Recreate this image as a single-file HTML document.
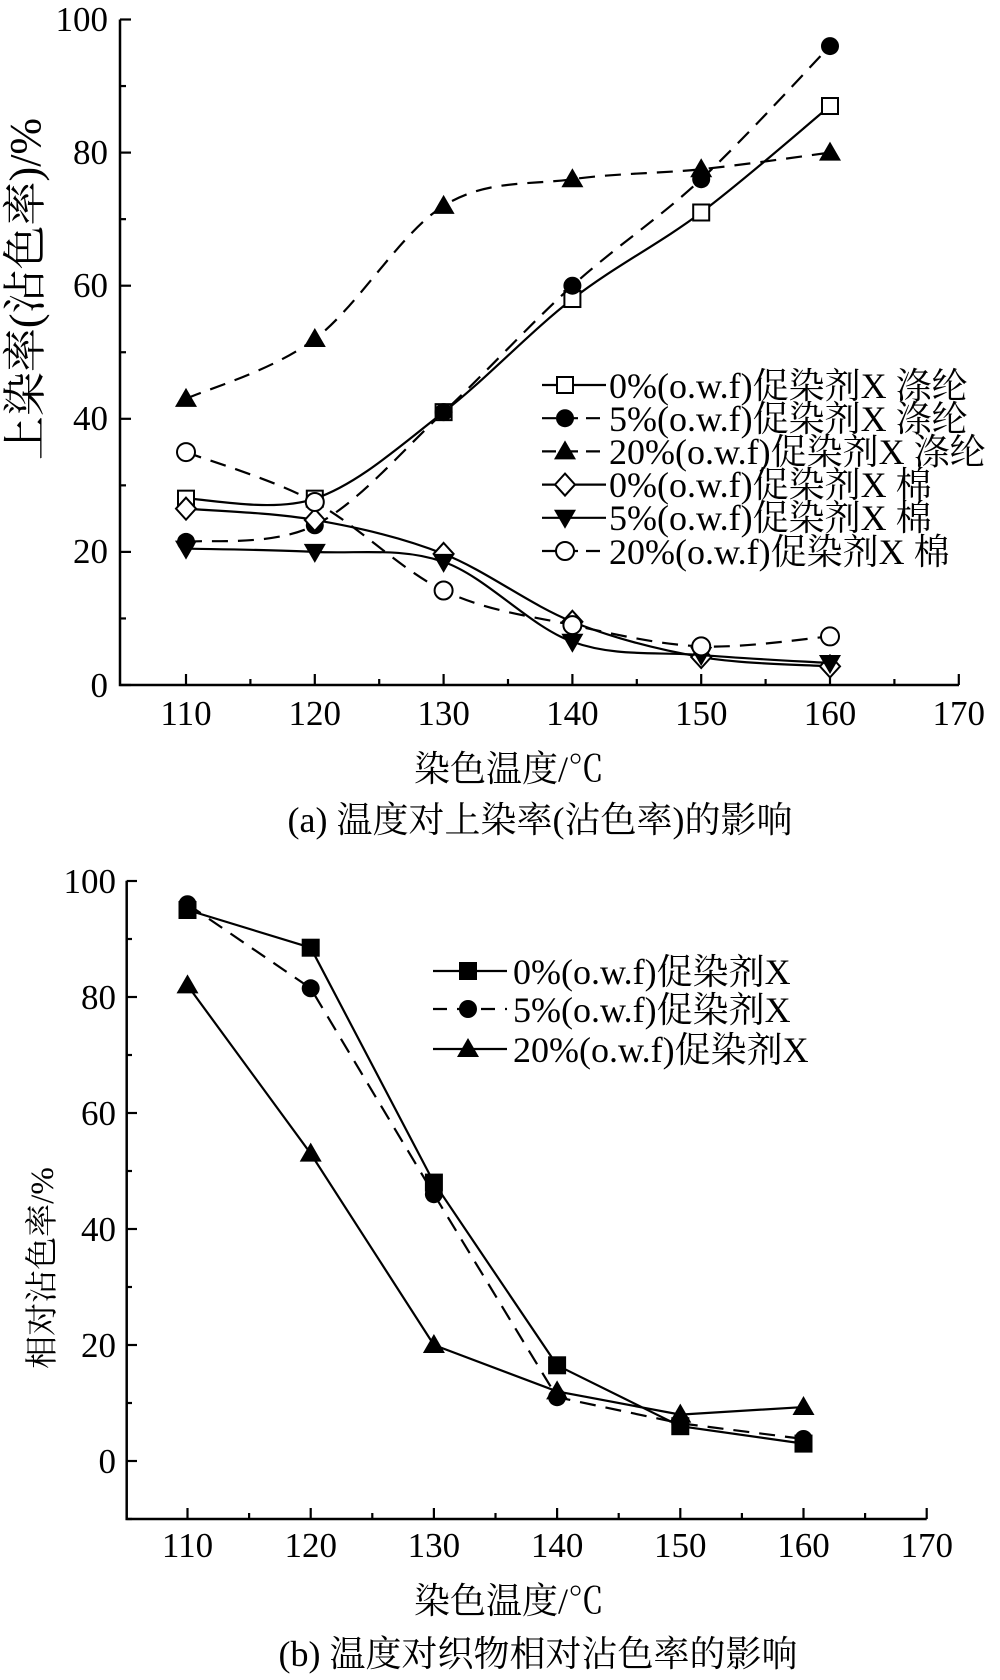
<!DOCTYPE html>
<html><head><meta charset="utf-8"><style>
html,body{margin:0;padding:0;background:#fff}
svg{display:block}
text{font-family:"Liberation Serif","Noto Serif CJK SC","Noto Sans CJK SC",serif;fill:#000}
</style></head><body>
<svg id="s" width="1000" height="1680" viewBox="0 0 1000 1680" xmlns="http://www.w3.org/2000/svg">
<g id="axes" stroke="#000" stroke-width="2.5" fill="none">
<path d="M120,19.5 V685 H959"/>
<path d="M126.7,880.7 V1519 H926.7"/>
</g>
<g id="ticks" stroke="#000" stroke-width="2.2"></g>
<g id="series"></g>
<g font-size="35" text-anchor="end">
<text x="108" y="31">100</text><text x="108" y="164">80</text><text x="108" y="297">60</text><text x="108" y="430">40</text><text x="108" y="563">20</text><text x="108" y="697">0</text>
<text x="116" y="893">100</text><text x="116" y="1009">80</text><text x="116" y="1125">60</text><text x="116" y="1241">40</text><text x="116" y="1357">20</text><text x="116" y="1473">0</text>
</g>
<g font-size="35" text-anchor="middle">
<text x="186" y="725">110</text><text x="314.8" y="725">120</text><text x="443.6" y="725">130</text><text x="572.4" y="725">140</text><text x="701.2" y="725">150</text><text x="830" y="725">160</text><text x="958.8" y="725">170</text>
<text x="187.5" y="1557">110</text><text x="310.7" y="1557">120</text><text x="433.9" y="1557">130</text><text x="557.1" y="1557">140</text><text x="680.3" y="1557">150</text><text x="803.5" y="1557">160</text><text x="926.7" y="1557">170</text>
<text x="509" y="781" font-size="36">染色温度/℃</text>
<text x="540" y="832" font-size="36">(a) 温度对上染率(沾色率)的影响</text>
<text x="509" y="1613" font-size="36">染色温度/℃</text>
<text x="538" y="1666" font-size="36">(b) 温度对织物相对沾色率的影响</text>
<text transform="translate(40,289) rotate(-90)" font-size="44">上染率(沾色率)/%</text>
<text transform="translate(53,1268) rotate(-90)" font-size="33">相对沾色率/%</text>
</g>
<g font-size="36">
<text x="609" y="398">0%(o.w.f)促染剂X 涤纶</text>
<text x="609" y="431">5%(o.w.f)促染剂X 涤纶</text>
<text x="609" y="464">20%(o.w.f)促染剂X 涤纶</text>
<text x="609" y="497">0%(o.w.f)促染剂X 棉</text>
<text x="609" y="530">5%(o.w.f)促染剂X 棉</text>
<text x="609" y="564">20%(o.w.f)促染剂X 棉</text>
<text x="513" y="984">0%(o.w.f)促染剂X</text>
<text x="513" y="1022">5%(o.w.f)促染剂X</text>
<text x="513" y="1062">20%(o.w.f)促染剂X</text>
</g>
</svg>
<script>
var NS="http://www.w3.org/2000/svg";
function el(p,t,a){var e=document.createElementNS(NS,t);for(var k in a)e.setAttribute(k,a[k]);p.appendChild(e);return e;}
var T=document.getElementById('ticks'),S=document.getElementById('series');
for(var v=0;v<=100;v+=10){var y=685-v*6.655;el(T,'line',{x1:120,y1:y,x2:v%20==0?131:126,y2:y});}
for(var t=110;t<=170;t+=5){var x=186+(t-110)*12.88;el(T,'line',{x1:x,y1:685,x2:x,y2:t%10==0?674:679});}
for(var v=-10;v<=100;v+=10){var y=1461-v*5.8;el(T,'line',{x1:126.7,y1:y,x2:v%20==0?137:132,y2:y});}
for(var t=110;t<=170;t+=5){var x=187.5+(t-110)*12.32;el(T,'line',{x1:x,y1:1519,x2:x,y2:t%10==0?1508:1513});}
function marker(g,type,x,y){var r=9;
 if(type=='sq')el(g,'rect',{x:x-8,y:y-8,width:16,height:16,fill:'#fff',stroke:'#000','stroke-width':2});
 if(type=='fsq')el(g,'rect',{x:x-9,y:y-9,width:18,height:18,fill:'#000'});
 if(type=='ci')el(g,'circle',{cx:x,cy:y,r:r,fill:'#000'});
 if(type=='oci')el(g,'circle',{cx:x,cy:y,r:9,fill:'#fff',stroke:'#000','stroke-width':2});
 if(type=='tri')el(g,'path',{d:'M'+x+','+(y-11)+'L'+(x+11)+','+(y+8)+'L'+(x-11)+','+(y+8)+'Z',fill:'#000'});
 if(type=='dtri')el(g,'path',{d:'M'+x+','+(y+11)+'L'+(x+11)+','+(y-8)+'L'+(x-11)+','+(y-8)+'Z',fill:'#000'});
 if(type=='dia')el(g,'path',{d:'M'+x+','+(y-11)+'L'+(x+10)+','+y+'L'+x+','+(y+11)+'L'+(x-10)+','+y+'Z',fill:'#fff',stroke:'#000','stroke-width':2});
}
function smooth(p){var d='M'+p[0][0]+','+p[0][1];for(var i=0;i<p.length-1;i++){var p0=p[i-1]||p[i],p1=p[i],p2=p[i+1],p3=p[i+2]||p2;
 var c1=[p1[0]+(p2[0]-p0[0])/6,p1[1]+(p2[1]-p0[1])/6],c2=[p2[0]-(p3[0]-p1[0])/6,p2[1]-(p3[1]-p1[1])/6];
 d+='C'+c1+' '+c2+' '+p2;}return d;}
function lin(p){return 'M'+p.map(function(q){return q.join(',')}).join('L');}
function series(X,Y,vals,type,dash,sm){var pts=vals.map(function(v,i){return [X(i),Y(v)];});
 var a={d:sm?smooth(pts):lin(pts),fill:'none',stroke:'#000','stroke-width':2.2};if(dash)a['stroke-dasharray']='16,10';el(S,'path',a);
 pts.forEach(function(p){marker(S,type,p[0],p[1]);});}
var XA=function(i){return 186+i*128.8},YA=function(v){return 685-v*6.655};
var XB=function(i){return 187.5+i*123.2},YB=function(v){return 1461-v*5.8};
series(XA,YA,[28,28,41,58,71,87],'sq',0,1);
series(XA,YA,[21.5,24,41,60,76,96],'ci',1,1);
series(XA,YA,[43,52,72,76,77.5,80],'tri',1,1);
series(XA,YA,[26.5,24.8,19.7,9.5,4.2,2.8],'dia',0,1);
series(XA,YA,[20.5,20,18.5,6.5,4.5,3.3],'dtri',0,1);
series(XA,YA,[35,27.5,14.2,9,5.8,7.3],'oci',1,1);
series(XB,YB,[95,88.5,48,16.5,6,3],'fsq',0,0);
series(XB,YB,[96,81.5,46,11,6.5,3.8],'ci',1,0);
series(XB,YB,[82,53,20,12,8,9.3],'tri',0,0);
var la=[['sq',0],['ci',1],['tri',1],['dia',0],['dtri',0],['oci',1]];
la.forEach(function(l,i){var y=385+i*33.2;var a={x1:542,y1:y,x2:606,y2:y,stroke:'#000','stroke-width':2.2};if(l[1])a['stroke-dasharray']='14,8';el(S,'line',a);marker(S,l[0],565,y);});
var lb=[['fsq',0],['ci',1],['tri',0]];
lb.forEach(function(l,i){var y=[971,1009,1049][i];var a={x1:433,y1:y,x2:507,y2:y,stroke:'#000','stroke-width':2.2};if(l[1])a['stroke-dasharray']='14,10';el(S,'line',a);marker(S,l[0],468,y);});
</script>
</body></html>
